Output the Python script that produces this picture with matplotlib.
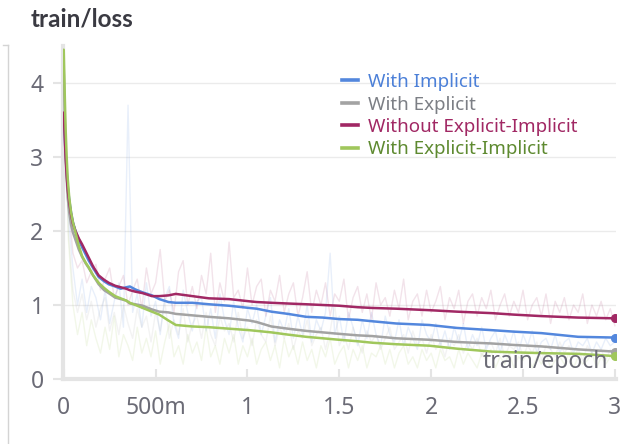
import matplotlib
matplotlib.use("Agg")
import matplotlib.pyplot as plt
from matplotlib.lines import Line2D

plt.rcParams['font.family'] = ['Noto Sans', 'DejaVu Sans']

# ---------------- data ----------------
series_names = ["With Implicit", "With Explicit", "Without Explicit-Implicit", "With Explicit-Implicit"]
line_colors = ["#5387DD", "#A3A3A3", "#A12864", "#A0C75C"]
text_colors = ["#4C80D8", "#7C7F85", "#A12864", "#5E8A30"]

x_smooth = [0, 0.005, 0.01, 0.016, 0.022, 0.03, 0.04, 0.05, 0.064, 0.082, 0.1, 0.12, 0.136, 0.16,
            0.19, 0.22, 0.245, 0.28, 0.31, 0.34, 0.36, 0.39, 0.43, 0.48, 0.52, 0.57, 0.61, 0.7, 0.79,
            0.9, 1.01, 1.05, 1.13, 1.22, 1.32, 1.41, 1.5, 1.6, 1.68, 1.81, 1.9, 1.99, 2.14, 2.33, 2.45,
            2.6, 2.8, 3.0]

implicit_smooth = [3.55, 3.3, 3.05, 2.8, 2.6, 2.42, 2.25, 2.12, 2.0, 1.88, 1.78, 1.68, 1.6, 1.5,
                   1.38, 1.32, 1.28, 1.25, 1.22, 1.24, 1.25, 1.21, 1.17, 1.13, 1.08, 1.04, 1.03, 1.03, 1.01,
                   0.99, 0.96, 0.95, 0.91, 0.88, 0.84, 0.83, 0.81, 0.80, 0.78, 0.75, 0.74, 0.73, 0.69, 0.66, 0.64,
                   0.62, 0.57, 0.56]
explicit_smooth = [4.2, 3.6, 3.1, 2.7, 2.45, 2.25, 2.08, 1.98, 1.88, 1.75, 1.65, 1.56, 1.5, 1.4,
                   1.28, 1.2, 1.16, 1.1, 1.08, 1.06, 1.02, 1.01, 0.99, 0.94, 0.91, 0.9, 0.88, 0.86, 0.84,
                   0.82, 0.79, 0.77, 0.71, 0.68, 0.65, 0.63, 0.61, 0.59, 0.58, 0.55, 0.54, 0.53, 0.5, 0.48, 0.46,
                   0.44, 0.4, 0.37]
without_smooth = [3.6, 3.3, 3.0, 2.75, 2.55, 2.38, 2.22, 2.1, 2.0, 1.9, 1.82, 1.72, 1.64, 1.52,
                  1.4, 1.34, 1.3, 1.26, 1.24, 1.22, 1.2, 1.18, 1.16, 1.12, 1.12, 1.13, 1.15, 1.12, 1.09,
                  1.08, 1.05, 1.04, 1.03, 1.02, 1.01, 1.0, 0.99, 0.97, 0.96, 0.95, 0.94, 0.93, 0.91, 0.89, 0.87,
                  0.85, 0.83, 0.82]
expl_impl_smooth = [4.45, 3.9, 3.4, 3.0, 2.7, 2.45, 2.25, 2.12, 1.98, 1.8, 1.66, 1.57, 1.51, 1.4,
                    1.3, 1.23, 1.18, 1.12, 1.09, 1.06, 1.03, 1.0, 0.96, 0.91, 0.87, 0.79, 0.73, 0.71, 0.7,
                    0.68, 0.66, 0.65, 0.63, 0.6, 0.57, 0.55, 0.53, 0.51, 0.49, 0.47, 0.46, 0.45, 0.41, 0.37, 0.36,
                    0.35, 0.34, 0.31]

# raw (unsmoothed) values, one per 0.025 epoch
raw_step = 0.025
implicit_raw = [3.5, 2.2, 1.5, 1.0, 1.35, 0.9, 1.25, 1.1, 0.8, 1.2,
                0.75, 1.05, 1.3, 0.7, 3.7, 0.9, 1.15, 0.7, 1.3, 0.85,
                1.05, 0.6, 1.1, 1.25, 0.75, 0.55, 1.2, 0.9, 0.65, 1.05,
                1.1, 0.65, 0.95, 0.55, 1.15, 0.8, 0.6, 1.05, 0.7, 0.5,
                0.95, 0.75, 1.0, 0.6, 0.85, 1.1, 0.5, 0.8, 0.65, 0.95,
                0.55, 0.85, 0.6, 1.0, 0.5, 0.8, 0.65, 0.9, 1.7, 0.6,
                0.85, 0.5, 0.9, 0.7, 0.45, 0.8, 0.55, 0.9, 0.6, 0.45,
                0.85, 0.6, 0.5, 0.8, 0.45, 0.7, 0.55, 0.4, 0.8, 0.6,
                0.5, 0.75, 0.45, 0.65, 0.4, 0.7, 0.5, 0.75, 0.4, 0.6,
                0.45, 0.7, 0.4, 0.55, 0.65, 0.35, 0.6, 0.45, 0.65, 0.35,
                0.6, 0.45, 0.65, 0.35, 0.5, 0.55, 0.4, 0.6, 0.35, 0.5,
                0.55, 0.35, 0.5, 0.45, 0.55, 0.35, 0.5, 0.4, 0.55, 0.45,
                0.5]
explicit_raw = [4.2, 2.0, 1.2, 0.9, 1.15, 0.8, 1.05, 0.7, 0.95, 1.1,
                0.65, 0.9, 0.6, 1.0, 0.75, 0.55, 0.95, 0.7, 0.85, 0.5,
                0.9, 0.65, 1.05, 0.55, 0.8, 0.6, 0.95, 0.5, 0.75, 0.85,
                0.55, 0.9, 0.6, 0.45, 0.85, 0.65, 0.75, 0.5, 0.9, 0.55,
                0.7, 0.45, 0.8, 0.6, 0.5, 0.85, 0.45, 0.7, 0.55, 0.75,
                0.4, 0.65, 0.55, 0.8, 0.45, 0.6, 0.7, 0.4, 0.65, 1.0,
                0.45, 0.6, 0.4, 0.7, 0.5, 0.35, 0.65, 0.5, 0.6, 0.4,
                0.55, 0.7, 0.4, 0.5, 0.6, 0.35, 0.65, 0.45, 0.55, 0.35,
                0.6, 0.4, 0.5, 0.3, 0.55, 0.45, 0.6, 0.35, 0.5, 0.4,
                0.55, 0.3, 0.45, 0.5, 0.35, 0.55, 0.3, 0.45, 0.4, 0.5,
                0.3, 0.45, 0.35, 0.5, 0.25, 0.45, 0.4, 0.3, 0.5, 0.35,
                0.45, 0.3, 0.4, 0.25, 0.45, 0.35, 0.3, 0.4, 0.25, 0.4,
                0.33]
without_raw = [3.6, 2.4, 1.7, 1.5, 1.6, 1.3, 1.45, 1.55, 1.2, 1.35,
               1.5, 1.1, 1.25, 1.4, 1.0, 1.2, 1.35, 0.95, 1.5, 1.15,
               1.3, 1.75, 1.05, 1.2, 0.9, 1.45, 1.6, 1.0, 1.25, 0.95,
               1.4, 1.15, 1.7, 0.9, 1.3, 1.05, 1.85, 1.1, 1.2, 0.95,
               1.5, 1.0, 1.25, 1.35, 0.85, 1.2, 1.05, 1.4, 0.9, 1.15,
               1.3, 0.85, 1.1, 1.45, 0.9, 1.2, 1.0, 1.3, 0.85, 1.15,
               1.05, 1.35, 0.8, 1.1, 1.25, 0.9, 1.15, 0.8, 1.3, 1.0,
               1.1, 0.85, 1.2, 0.95, 1.35, 0.8, 1.05, 1.15, 0.85, 1.2,
               0.9, 1.05, 1.25, 0.8, 1.1, 0.95, 1.2, 0.75, 1.05, 1.15,
               0.85, 1.1, 0.95, 1.2, 0.8, 1.0, 1.15, 0.85, 1.05, 0.9,
               1.2, 0.8, 1.0, 1.1, 0.85, 1.15, 0.75, 1.05, 0.9, 1.1,
               0.8, 1.0, 0.9, 1.15, 0.75, 1.0, 0.85, 1.05, 0.8, 0.95,
               0.72]
expl_impl_raw = [4.45, 1.9, 1.0, 0.6, 0.9, 0.45, 0.8, 0.55, 0.35, 0.7,
                 0.4, 0.85, 0.3, 0.6, 0.45, 0.25, 0.7, 0.35, 0.55, 0.3,
                 0.65, 0.2, 0.5, 0.75, 0.3, 0.45, 0.2, 0.6, 0.35, 0.5,
                 0.25, 0.7, 0.3, 0.45, 0.2, 0.55, 0.35, 0.6, 0.2, 0.45,
                 0.3, 0.55, 0.2, 0.4, 0.5, 0.25, 0.45, 0.15, 0.55, 0.3,
                 0.45, 0.2, 0.5, 0.25, 0.4, 0.15, 0.45, 0.3, 0.55, 0.2,
                 0.35, 0.45, 0.15, 0.4, 0.25, 0.45, 0.15, 0.35, 0.3, 0.45,
                 0.2, 0.4, 0.15, 0.35, 0.45, 0.2, 0.3, 0.15, 0.4, 0.25,
                 0.35, 0.15, 0.4, 0.25, 0.3, 0.15, 0.4, 0.2, 0.35, 0.25,
                 0.15, 0.35, 0.25, 0.4, 0.15, 0.3, 0.2, 0.35, 0.15, 0.3,
                 0.25, 0.35, 0.15, 0.3, 0.2, 0.35, 0.15, 0.25, 0.3, 0.2,
                 0.35, 0.15, 0.3, 0.2, 0.25, 0.35, 0.15, 0.3, 0.2, 0.3,
                 0.28]

smooth_series = [implicit_smooth, explicit_smooth, without_smooth, expl_impl_smooth]
raw_series = [implicit_raw, explicit_raw, without_raw, expl_impl_raw]

x_ticks = [0, 0.5, 1, 1.5, 2, 2.5, 3]
x_tick_labels = ["0", "500m", "1", "1.5", "2", "2.5", "3"]
y_ticks = [0, 1, 2, 3, 4]
y_tick_labels = ["0", "1", "2", "3", "4"]

# ---------------- figure ----------------
W, H = 620, 444
fig = plt.figure(figsize=(W / 100, H / 100), dpi=100)
ax_left, ax_right, ax_bottom, ax_top = 63, 616, 379, 46
ax = fig.add_axes([ax_left / W, 1 - ax_bottom / H, (ax_right - ax_left) / W, (ax_bottom - ax_top) / H])

# raw (faint) lines
for ys_, c in zip(raw_series, line_colors):
    xs_ = [i * raw_step for i in range(len(ys_))]
    ax.plot(xs_, ys_, color=c, alpha=0.13, lw=1.0, zorder=2)

# smoothed lines
for ys_, c in zip(smooth_series, line_colors):
    ax.plot(x_smooth, ys_, color=c, lw=1.8, zorder=3, solid_capstyle='round', solid_joinstyle='round')
    ax.plot([x_smooth[-1]], [ys_[-1]], 'o', color=c, ms=5.5, zorder=4)

ax.set_xlim(-0.004, 3.006)
ax.set_ylim(0, 4.5)
ax.set_xticks(x_ticks)
ax.set_xticklabels(x_tick_labels)
ax.set_yticks(y_ticks)
ax.set_yticklabels(y_tick_labels)

ax.grid(axis='y', color='#EBEBEB', lw=1.0, zorder=0)
ax.set_axisbelow(True)
for s in ['top', 'right']:
    ax.spines[s].set_visible(False)
ax.spines['left'].set_color('#E4E4E4')
ax.spines['left'].set_linewidth(3)
ax.spines['bottom'].set_color('#E4E4E4')
ax.spines['bottom'].set_linewidth(3)

ax.tick_params(axis='x', direction='in', length=7, width=1.5, color='#E4E4E4',
               labelsize=16.5, labelcolor='#6B6B76', pad=12)
ax.tick_params(axis='y', direction='out', length=7, width=1.5, color='#E4E4E4',
               labelsize=16.5, labelcolor='#6B6B76', pad=7)

ax.text(0.985, 0.05, "train/epoch", transform=ax.transAxes, ha='right', va='center',
        fontsize=16.5, color='#6B6B76', zorder=5)

# legend
handles = [Line2D([0], [0], color=c, lw=2.6) for c in line_colors]
leg = fig.legend(handles, series_names, loc='upper left', bbox_to_anchor=(342 / W, 1 - 73 / H),
                 frameon=False, fontsize=13.5, handlelength=0.85, handletextpad=0.55,
                 labelspacing=0.24, labelcolor=text_colors, borderpad=0, borderaxespad=0)

# title
fig.text(31 / W, 1 - 19 / H, "train/loss", ha='left', va='center', fontsize=17.5,
         fontweight='bold', family=['Lato', 'Open Sans', 'DejaVu Sans'], color='#3A3A42')

# panel border
fig.add_artist(Line2D([8 / W, 8 / W], [1 - 45 / H, 0], color='#D4D4D4', lw=1.0))
fig.add_artist(Line2D([3 / W, 8 / W], [1 - 45 / H, 1 - 45 / H], color='#D4D4D4', lw=1.0))

fig.savefig("out.png", dpi=100)
